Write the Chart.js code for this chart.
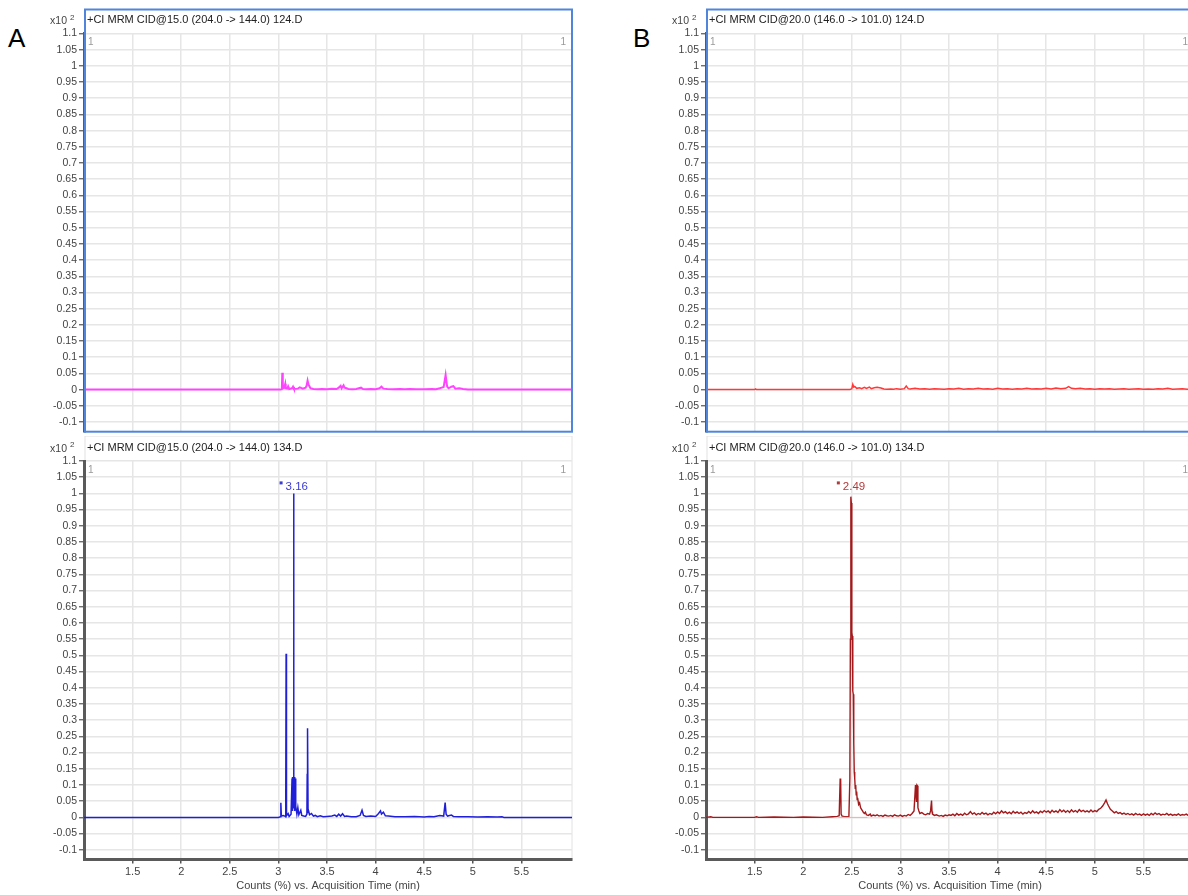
<!DOCTYPE html>
<html>
<head>
<meta charset="utf-8">
<script src="https://cdn.jsdelivr.net/npm/chart.js@4.4.1/dist/chart.umd.min.js"></script>
<style>
  html, body { margin: 0; padding: 0; background: #ffffff; }
  #wrap { position: relative; width: 1188px; height: 895px; overflow: hidden; background: #fff; }
  canvas { position: absolute; }
  .lbl { position: absolute; font-family: 'Liberation Sans', Arial, sans-serif; font-size: 26px; color: #000; }
</style>
</head>
<body>
<div id="wrap">
  <div class="lbl" style="left:8px;top:23px;">A</div>
  <div class="lbl" style="left:633px;top:23px;">B</div>
  <canvas id="cA1" width="600" height="440" style="left:0px;top:0px;"></canvas>
  <canvas id="cA2" width="600" height="459" style="left:0px;top:436px;"></canvas>
  <canvas id="cB1" width="600" height="440" style="left:620px;top:0px;"></canvas>
  <canvas id="cB2" width="600" height="459" style="left:620px;top:436px;"></canvas>
</div>
<script>
// ---------- axis ticks ----------
const xTickVals = [1.5, 2, 2.5, 3, 3.5, 4, 4.5, 5, 5.5];
const xTickLabels = ['1.5', '2', '2.5', '3', '3.5', '4', '4.5', '5', '5.5'];
const yTickVals = [-0.1, -0.05, 0, 0.05, 0.1, 0.15, 0.2, 0.25, 0.3, 0.35, 0.4, 0.45, 0.5, 0.55, 0.6, 0.65, 0.7, 0.75, 0.8, 0.85, 0.9, 0.95, 1, 1.05, 1.1];
const yTickLabels = ['-0.1', '-0.05', '0', '0.05', '0.1', '0.15', '0.2', '0.25', '0.3', '0.35', '0.4', '0.45', '0.5', '0.55', '0.6', '0.65', '0.7', '0.75', '0.8', '0.85', '0.9', '0.95', '1', '1.05', '1.1'];

// ---------- titles ----------
const titleA1 = '+CI MRM CID@15.0 (204.0 -> 144.0) 124.D';
const titleA2 = '+CI MRM CID@15.0 (204.0 -> 144.0) 134.D';
const titleB1 = '+CI MRM CID@20.0 (146.0 -> 101.0) 124.D';
const titleB2 = '+CI MRM CID@20.0 (146.0 -> 101.0) 134.D';
const xAxisTitle = 'Counts (%) vs. Acquisition Time (min)';

// ---------- A top (magenta) ----------
const aTopTime = [1.0, 3.02, 3.035, 3.04, 3.045, 3.06, 3.07, 3.075, 3.09, 3.1, 3.11, 3.14, 3.15, 3.16, 3.2, 3.22, 3.25, 3.28, 3.29, 3.3, 3.31, 3.33, 3.36, 3.4, 3.45, 3.5, 3.55, 3.6, 3.62, 3.64, 3.65, 3.67, 3.68, 3.7, 3.72, 3.76, 3.8, 3.85, 3.87, 3.9, 3.95, 4.0, 4.04, 4.06, 4.08, 4.12, 4.18, 4.25, 4.3, 4.35, 4.42, 4.5, 4.58, 4.62, 4.66, 4.68, 4.7, 4.72, 4.735, 4.75, 4.78, 4.8, 4.82, 4.86, 4.9, 4.95, 6.02];
const aTopVal  = [0, 0, 0.001, 0.052, 0.004, 0.006, 0.018, 0.004, 0.003, 0.01, 0.002, 0.004, 0.009, 0.002, 0.003, 0.007, 0.003, 0.006, 0.012, 0.028, 0.015, 0.004, 0.002, 0.001, 0.002, 0.001, 0.003, 0.002, 0.006, 0.012, 0.004, 0.013, 0.006, 0.004, 0.002, 0.001, 0.002, 0.006, 0.002, 0.001, 0.002, 0.001, 0.004, 0.009, 0.003, 0.002, 0.001, 0.002, 0.001, 0.002, 0.001, 0.001, 0.002, 0.001, 0.004, 0.006, 0.008, 0.045, 0.01, 0.004, 0.009, 0.011, 0.003, 0.004, 0.002, 0, 0];

// ---------- A bottom (blue) ----------
const aBotTime = [1.0, 3.0, 3.02, 3.025, 3.03, 3.05, 3.07, 3.075, 3.079, 3.083, 3.1, 3.11, 3.13, 3.14, 3.143, 3.147, 3.15, 3.156, 3.16, 3.165, 3.168, 3.172, 3.176, 3.18, 3.19, 3.2, 3.21, 3.23, 3.24, 3.26, 3.28, 3.293, 3.296, 3.298, 3.301, 3.305, 3.31, 3.32, 3.34, 3.36, 3.38, 3.4, 3.43, 3.46, 3.5, 3.55, 3.58, 3.6, 3.62, 3.64, 3.66, 3.68, 3.7, 3.75, 3.8, 3.84, 3.86, 3.875, 3.9, 3.95, 4.0, 4.03, 4.05, 4.06, 4.08, 4.1, 4.13, 4.2, 4.3, 4.4, 4.5, 4.55, 4.6, 4.66, 4.7, 4.715, 4.725, 4.74, 4.78, 4.8, 4.85, 4.95, 5.05, 5.15, 5.25, 5.3, 5.32, 6.02];
const aBotVal  = [0, 0, 0.002, 0.045, 0.004, 0.006, 0.003, 0.002, 0.505, 0.005, 0.012, 0.003, 0.01, 0.12, 0.02, 0.125, 0.03, 1.0, 0.04, 0.125, 0.02, 0.12, 0.03, 0.035, 0.01, 0.03, 0.008, 0.022, 0.006, 0.004, 0.003, 0.01, 0.135, 0.02, 0.275, 0.015, 0.02, 0.008, 0.012, 0.004, 0.006, 0.002, 0.005, 0.002, 0.003, 0.004, 0.007, 0.003, 0.01, 0.004, 0.011, 0.003, 0.004, 0.002, 0.002, 0.006, 0.022, 0.006, 0.003, 0.004, 0.003, 0.012, 0.02, 0.01, 0.016, 0.005, 0.004, 0.002, 0.002, 0.003, 0.001, 0.003, 0.002, 0.006, 0.004, 0.046, 0.01, 0.004, 0.007, 0.003, 0.002, 0.002, 0.001, 0.002, 0.001, 0.002, 0, 0];

// ---------- B top (red) ----------
const bTopTime = [1.0, 1.5, 1.51, 1.52, 2.48, 2.5, 2.51, 2.52, 2.53, 2.55, 2.58, 2.6, 2.63, 2.65, 2.68, 2.7, 2.73, 2.76, 2.8, 2.83, 2.86, 2.9, 2.93, 2.96, 3.0, 3.04, 3.06, 3.08, 3.1, 3.15, 3.2, 3.25, 3.3, 3.35, 3.4, 3.45, 3.5, 3.55, 3.6, 3.65, 3.7, 3.75, 3.8, 3.85, 3.9, 3.95, 4.0, 4.05, 4.1, 4.15, 4.2, 4.25, 4.3, 4.35, 4.4, 4.45, 4.5, 4.55, 4.6, 4.65, 4.7, 4.73, 4.76, 4.8, 4.85, 4.9, 4.95, 5.0, 5.05, 5.1, 5.15, 5.2, 5.25, 5.3, 5.35, 5.4, 5.45, 5.5, 5.55, 5.6, 5.65, 5.7, 5.75, 5.8, 5.85, 5.9, 5.95, 6.02];
const bTopVal  = [0, 0, 0.002, 0, 0, 0.003, 0.016, 0.008, 0.01, 0.004, 0.006, 0.003, 0.007, 0.004, 0.008, 0.003, 0.006, 0.007, 0.005, 0.002, 0.001, 0.002, 0.001, 0.003, 0.001, 0.003, 0.011, 0.003, 0.002, 0.004, 0.002, 0.003, 0.001, 0.003, 0.002, 0.001, 0.003, 0.002, 0.004, 0.001, 0.003, 0.002, 0.004, 0.002, 0.003, 0.001, 0.004, 0.002, 0.003, 0.001, 0.003, 0.002, 0.004, 0.002, 0.003, 0.002, 0.004, 0.002, 0.005, 0.003, 0.004, 0.009, 0.004, 0.003, 0.004, 0.002, 0.003, 0.001, 0.003, 0.002, 0.003, 0.001, 0.002, 0.003, 0.001, 0.002, 0.003, 0.001, 0.002, 0.001, 0.003, 0.002, 0.004, 0.001, 0.002, 0.003, 0.001, 0.002];

// ---------- B bottom (dark red) ----------
const bBotTime = [1.0, 1.05, 1.07, 1.5, 1.52, 1.54, 1.7, 1.9, 2.0, 2.2, 2.3, 2.35, 2.37, 2.38, 2.385, 2.39, 2.4, 2.42, 2.45, 2.47, 2.48, 2.485, 2.49, 2.495, 2.5, 2.505, 2.51, 2.515, 2.52, 2.525, 2.53, 2.535, 2.54, 2.545, 2.55, 2.555, 2.56, 2.57, 2.58, 2.59, 2.6, 2.61, 2.62, 2.63, 2.64, 2.65, 2.67, 2.69, 2.7, 2.72, 2.74, 2.76, 2.78, 2.8, 2.82, 2.84, 2.86, 2.88, 2.9, 2.92, 2.94, 2.96, 2.98, 3.0, 3.02, 3.04, 3.06, 3.08, 3.1, 3.12, 3.14, 3.155, 3.16, 3.165, 3.17, 3.175, 3.18, 3.19, 3.2, 3.22, 3.24, 3.26, 3.28, 3.3, 3.31, 3.32, 3.325, 3.33, 3.35, 3.37, 3.4, 3.42, 3.44, 3.46, 3.48, 3.5, 3.52, 3.54, 3.56, 3.58, 3.6, 3.62, 3.64, 3.66, 3.68, 3.7, 3.72, 3.74, 3.76, 3.78, 3.8, 3.82, 3.84, 3.86, 3.88, 3.9, 3.92, 3.94, 3.96, 3.98, 4.0, 4.02, 4.04, 4.06, 4.08, 4.1, 4.12, 4.14, 4.16, 4.18, 4.2, 4.22, 4.24, 4.26, 4.28, 4.3, 4.32, 4.34, 4.36, 4.38, 4.4, 4.42, 4.44, 4.46, 4.48, 4.5, 4.52, 4.54, 4.56, 4.58, 4.6, 4.62, 4.64, 4.66, 4.68, 4.7, 4.72, 4.74, 4.76, 4.78, 4.8, 4.82, 4.84, 4.86, 4.88, 4.9, 4.92, 4.94, 4.96, 4.98, 5.0, 5.02, 5.04, 5.06, 5.08, 5.1, 5.115, 5.13, 5.14, 5.16, 5.18, 5.2, 5.22, 5.24, 5.26, 5.28, 5.3, 5.32, 5.34, 5.36, 5.38, 5.4, 5.42, 5.44, 5.46, 5.48, 5.5, 5.52, 5.54, 5.56, 5.58, 5.6, 5.62, 5.64, 5.66, 5.68, 5.7, 5.72, 5.74, 5.76, 5.78, 5.8, 5.82, 5.84, 5.86, 5.88, 5.9, 5.92, 5.94, 5.96, 5.98, 6.0, 6.02];
const bBotVal  = [0, 0.002, 0, 0, 0.002, 0, 0.001, 0, 0.001, 0, 0.002, 0.003, 0.005, 0.118, 0.12, 0.01, 0.004, 0.003, 0.002, 0.003, 0.12, 0.55, 0.99, 0.97, 0.57, 0.56, 0.39, 0.38, 0.23, 0.14, 0.12, 0.09, 0.1, 0.07, 0.08, 0.055, 0.06, 0.04, 0.045, 0.03, 0.025, 0.02, 0.015, 0.012, 0.016, 0.008, 0.006, 0.01, 0.004, 0.007, 0.005, 0.008, 0.004, 0.006, 0.003, 0.007, 0.005, 0.004, 0.006, 0.003, 0.008, 0.005, 0.004, 0.007, 0.003, 0.006, 0.004, 0.009, 0.006, 0.012, 0.02, 0.1, 0.1, 0.05, 0.1, 0.098, 0.03, 0.02, 0.012, 0.015, 0.01, 0.008, 0.012, 0.01, 0.02, 0.052, 0.018, 0.01, 0.006, 0.008, 0.004, 0.006, 0.003, 0.007, 0.005, 0.008, 0.006, 0.01, 0.005, 0.012, 0.007, 0.01, 0.006, 0.013, 0.008, 0.011, 0.018, 0.01, 0.014, 0.008, 0.012, 0.009, 0.015, 0.01, 0.013, 0.008, 0.012, 0.009, 0.016, 0.011, 0.017, 0.012, 0.02, 0.014, 0.018, 0.012, 0.016, 0.011, 0.019, 0.013, 0.017, 0.012, 0.016, 0.01, 0.015, 0.012, 0.018, 0.013, 0.02, 0.014, 0.017, 0.012, 0.019, 0.015, 0.021, 0.016, 0.02, 0.014, 0.022, 0.016, 0.02, 0.015, 0.024, 0.017, 0.022, 0.016, 0.021, 0.015, 0.023, 0.017, 0.021, 0.016, 0.024, 0.018, 0.022, 0.017, 0.02, 0.016, 0.023, 0.017, 0.021, 0.018, 0.025, 0.028, 0.035, 0.045, 0.054, 0.042, 0.036, 0.025, 0.02, 0.014, 0.018, 0.012, 0.015, 0.01, 0.013, 0.009, 0.012, 0.008, 0.011, 0.007, 0.012, 0.008, 0.01, 0.006, 0.011, 0.007, 0.01, 0.006, 0.012, 0.008, 0.014, 0.009, 0.012, 0.007, 0.01, 0.008, 0.012, 0.007, 0.01, 0.006, 0.009, 0.007, 0.011, 0.006, 0.009, 0.007, 0.01, 0.006, 0.009, 0.007, 0.008];
// integration baseline under the main peak
const bBaseTime = [2.36, 2.66];
const bBaseVal  = [0, 0];

// ---------- peak labels (anchor value = top of peak label line) ----------
const peakA = { x: 3.156, y: 1.0, label: '3.16', color: '#3b3bd6' };
const peakB = { x: 2.49, y: 1.0, label: '2.49', color: '#b33a3a' };

const FONT = "'Liberation Sans', Arial, sans-serif";

function pts(t, v) { return t.map((x, i) => ({ x: x, y: v[i] })); }

function drawFrame(chart, o) {
  const ctx = chart.ctx;
  const a = chart.chartArea;
  ctx.save();
  ctx.strokeStyle = o.frameColor;
  ctx.lineWidth = o.frameWidth;
  ctx.strokeRect(a.left + 1, a.top - o.frameTop, a.right - a.left - 1, a.bottom - (a.top - o.frameTop));
  ctx.restore();
}

const decor = {
  id: 'decor',
  beforeDraw(chart, args, o) {
    if (!o.frameOnTop) drawFrame(chart, o);
  },
  afterDraw(chart, args, o) {
    const ctx = chart.ctx;
    const a = chart.chartArea;
    if (o.frameOnTop) drawFrame(chart, o);
    ctx.save();
    // title
    ctx.fillStyle = '#222';
    ctx.font = '11px ' + FONT;
    ctx.textBaseline = 'middle';
    ctx.textAlign = 'left';
    ctx.fillText(o.title, a.left + 3, a.top - 13.5);
    // x10^2
    ctx.fillStyle = '#444';
    ctx.font = '10.5px ' + FONT;
    ctx.textAlign = 'right';
    ctx.fillText('x10', a.left - 17, a.top - 12);
    ctx.font = '8px ' + FONT;
    ctx.textAlign = 'left';
    ctx.fillText('2', a.left - 14, a.top - 16);
    // "1" markers
    ctx.fillStyle = '#9a9a9a';
    ctx.font = '10px ' + FONT;
    ctx.fillText('1', a.left + 4, a.top + 9);
    ctx.textAlign = 'right';
    ctx.fillText('1', a.right - 6, a.top + 9);
    // peak label
    if (o.peak) {
      const px = chart.scales.x.getPixelForValue(o.peak.x);
      const py = chart.scales.y.getPixelForValue(o.peak.y);
      ctx.fillStyle = o.peak.color;
      ctx.fillRect(px - 14, py - 12, 3, 3);
      ctx.font = '11.5px ' + FONT;
      ctx.textAlign = 'left';
      ctx.textBaseline = 'middle';
      ctx.fillText(o.peak.label, px - 8, py - 7);
    }
    ctx.restore();
  }
};

function makeChart(id, datasets, opt) {
  const yw = opt.yWidth;
  new Chart(document.getElementById(id), {
    type: 'scatter',
    data: { datasets: datasets },
    options: {
      responsive: false,
      animation: false,
      events: [],
      layout: { padding: { left: 0, right: opt.padRight, top: opt.padTop, bottom: opt.padBottom } },
      plugins: {
        legend: { display: false },
        tooltip: { enabled: false },
        decor: opt.decor
      },
      scales: {
        x: {
          type: 'linear',
          min: 1.0,
          max: 6.02,
          afterBuildTicks: (s) => { s.ticks = xTickVals.map(v => ({ value: v })); },
          afterFit: (s) => { s.height = opt.xHeight; },
          grid: { color: '#e6e6e6', lineWidth: 1.5, drawTicks: opt.showX, tickLength: 4, tickColor: '#555', tickWidth: 1.5 },
          border: { display: opt.showX, color: '#5a5a5a', width: 3 },
          ticks: {
            display: opt.showX, autoSkip: false, maxRotation: 0, padding: 2,
            color: '#444', font: { family: FONT, size: 11 },
            callback: (v, i) => xTickLabels[i]
          },
          title: {
            display: opt.showX, text: xAxisTitle, color: '#444',
            font: { family: FONT, size: 11 }, padding: { top: 0, bottom: 2 }
          }
        },
        y: {
          type: 'linear',
          min: -0.13,
          max: 1.1,
          afterBuildTicks: (s) => { s.ticks = yTickVals.map(v => ({ value: v })); },
          afterFit: (s) => { s.width = yw; },
          grid: { color: '#e6e6e6', lineWidth: 1.5, drawTicks: true, tickLength: 5, tickColor: '#555', tickWidth: 1.2 },
          border: { display: true, color: '#5a5a5a', width: 3 },
          ticks: {
            autoSkip: false, padding: 2, color: '#444',
            font: { family: FONT, size: 10.5 },
            callback: (v, i) => yTickLabels[i]
          }
        }
      }
    },
    plugins: [decor]
  });
}

function ds(t, v, color, w) {
  return { data: pts(t, v), showLine: true, borderColor: color, borderWidth: w, pointRadius: 0, tension: 0, fill: false };
}

makeChart('cA1', [ds(aTopTime, aTopVal, '#ff44ff', 2)], {
  yWidth: 84, padRight: 28, padTop: 33.5, padBottom: 7.5, xHeight: 0, showX: false,
  decor: { title: titleA1, frameColor: '#4f86dc', frameWidth: 2, frameTop: 24, frameOnTop: true }
});
makeChart('cA2', [ds(aBotTime, aBotVal, '#1f1fd8', 1.5)], {
  yWidth: 84, padRight: 28, padTop: 25, padBottom: 0, xHeight: 35.5, showX: true,
  decor: { title: titleA2, frameColor: '#e2e2e2', frameWidth: 1, frameTop: 25, frameOnTop: false, peak: peakA }
});
makeChart('cB1', [ds(bTopTime, bTopVal, '#ff3838', 1.5)], {
  yWidth: 86, padRight: 26, padTop: 33.5, padBottom: 7.5, xHeight: 0, showX: false,
  decor: { title: titleB1, frameColor: '#4f86dc', frameWidth: 2, frameTop: 24, frameOnTop: true }
});
makeChart('cB2', [ds(bBaseTime, bBaseVal, '#e8b0b0', 1), ds(bBotTime, bBotVal, '#a3191b', 1.4)], {
  yWidth: 86, padRight: 26, padTop: 25, padBottom: 0, xHeight: 35.5, showX: true,
  decor: { title: titleB2, frameColor: '#e2e2e2', frameWidth: 1, frameTop: 25, frameOnTop: false, peak: peakB }
});
</script>
</body>
</html>
